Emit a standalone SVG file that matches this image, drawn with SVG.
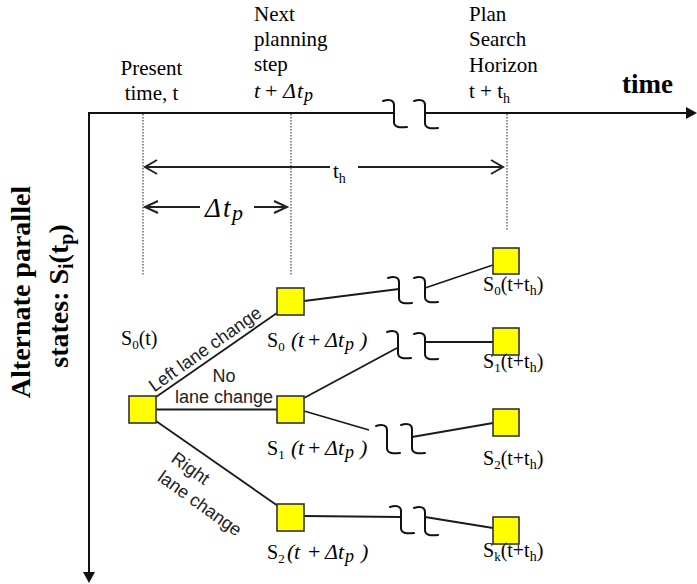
<svg xmlns="http://www.w3.org/2000/svg" width="697" height="584" viewBox="0 0 697 584">
<style>
.serif{font-family:"Liberation Serif","Times New Roman",serif;fill:#000}
.sans{font-family:"Liberation Sans",Arial,sans-serif;fill:#222;font-size:18px}
.node{fill:#ffff00;stroke:#333;stroke-width:1.6}
.conn{stroke:#1a1a1a;stroke-width:1.8;fill:none}
.brk{stroke:#111;stroke-width:2;fill:none;stroke-linecap:round}
.dot{stroke:#555;stroke-width:1.3;stroke-dasharray:1.5 1.5}
.dim{stroke:#222;stroke-width:2;fill:none}
.it{font-style:italic}
</style>
<rect width="697" height="584" fill="#fff"/>

<g id="axes">
  <path d="M89,574 V113 H394 M425,113 H688" stroke="#111" stroke-width="2" fill="none"/>
  <polygon points="686,107 697,113 686,119" fill="#111"/>
  <polygon points="83,572 89,583 95,572" fill="#111"/>
  <path class="brk" d="M383,101 C389,99 394,100 394,105 L394,122 C394,127 399,128 407,127"/>
  <path class="brk" d="M414,101 C420,99 425,100 425,105 L425,123 C425,128 430,129 438,128"/>
  <text class="serif" x="622" y="93" font-size="27" font-weight="bold">time</text>
  <text class="serif" transform="translate(30,292) rotate(-90)" text-anchor="middle" font-size="28" font-weight="bold">Alternate parallel</text>
  <text class="serif" transform="translate(68,296) rotate(-90)" text-anchor="middle" font-size="28" font-weight="bold">states: S<tspan font-size="20" dy="5">i</tspan><tspan dy="-5">(t</tspan><tspan font-size="20" dy="5">p</tspan><tspan dy="-5">)</tspan></text>
</g>

<g id="time-marks">
  <line class="dot" x1="143" y1="114" x2="143" y2="276"/>
  <line class="dot" x1="291" y1="114" x2="291" y2="276"/>
  <line class="dot" x1="507" y1="114" x2="507" y2="230"/>
  <text class="serif" font-size="21" text-anchor="middle" x="151.5" y="75">Present</text>
  <text class="serif" font-size="21" text-anchor="middle" x="151.5" y="100">time, t</text>
  <text class="serif" font-size="21" x="254" y="21">Next</text>
  <text class="serif" font-size="21" x="254" y="46">planning</text>
  <text class="serif" font-size="21" x="254" y="71">step</text>
  <text class="serif" font-size="22" y="98"><tspan class="it" x="254">t</tspan><tspan x="265">+</tspan><tspan class="it" x="283">Δ</tspan><tspan class="it" x="297">t</tspan><tspan class="it" x="304" dy="3" font-size="18">p</tspan></text>
  <text class="serif" font-size="21" x="469" y="21">Plan</text>
  <text class="serif" font-size="21" x="469" y="46">Search</text>
  <text class="serif" font-size="21" x="469" y="72">Horizon</text>
  <text class="serif" font-size="21" x="469" y="98">t + t<tspan font-size="14" dy="5">h</tspan></text>
</g>

<g id="dimensions">
  <path class="dim" d="M145,167 H330 M358,167 H503 M157,160 L145,167 L157,174 M491,160 L503,167 L491,174"/>
  <text class="serif" font-size="21" x="333" y="178">t<tspan font-size="14" dy="5">h</tspan></text>
  <path class="dim" d="M145,207 H200 M254,207 H287 M158,201 L145,207 L158,213 M274,201 L287,207 L274,213"/>
  <text class="serif it" font-size="27" y="217"><tspan x="205">Δ</tspan><tspan x="223">t</tspan><tspan x="232" dy="3" font-size="22">p</tspan></text>
</g>

<g id="connectors">
  <line class="conn" x1="156" y1="397" x2="277" y2="313"/>
  <line class="conn" x1="156" y1="409.5" x2="277" y2="409.5"/>
  <line class="conn" x1="156" y1="421" x2="278" y2="506"/>
  <line class="conn" x1="304" y1="301" x2="399" y2="289"/>
  <line class="conn" x1="425" y1="288" x2="493" y2="265"/>
  <line class="conn" x1="304" y1="398" x2="397" y2="348"/>
  <line class="conn" x1="425" y1="342" x2="493" y2="342"/>
  <line class="conn" x1="304" y1="411" x2="369" y2="430"/>
  <line class="conn" x1="412" y1="437" x2="493" y2="423"/>
  <line class="conn" x1="304" y1="516" x2="401" y2="517"/>
  <line class="conn" x1="425" y1="517" x2="493" y2="528"/>
  <path class="brk" d="M388,278 C394,276 399,277 399,282 L399,298 C399,303 404,304 412,303"/>
  <path class="brk" d="M414,278 C420,276 425,277 425,282 L425,297 C425,302 430,303 438,302"/>
  <path class="brk" d="M387,332 C393,330 398,331 398,336 L398,353 C398,358 403,359 411,358"/>
  <path class="brk" d="M414,334 C420,332 425,333 425,338 L425,354 C425,359 430,360 438,359"/>
  <path class="brk" d="M376,426 C382,424 387,425 387,430 L387,448 C387,453 392,454 400,453"/>
  <path class="brk" d="M401,425 C407,423 412,424 412,429 L412,448 C412,453 417,454 425,453"/>
  <path class="brk" d="M390,507 C396,505 401,506 401,511 L401,528 C401,533 406,534 414,533"/>
  <path class="brk" d="M414,508 C420,506 425,507 425,512 L425,530 C425,535 430,536 438,535"/>
  <text class="sans" text-anchor="middle" transform="translate(208.5,354) rotate(-35.3)">Left lane change</text>
  <text class="sans" text-anchor="middle" x="224" y="382" fill="#333">No</text>
  <text class="sans" text-anchor="middle" x="224" y="403" fill="#333">lane change</text>
  <text class="sans" transform="translate(170,461) rotate(35.7)"><tspan x="0" y="0">Right</tspan><tspan x="0" y="23">lane change</tspan></text>
</g>

<g id="root">
  <rect class="node" x="129" y="396" width="27" height="27"/>
  <text class="serif" font-size="20" x="121" y="345">S<tspan font-size="13" dy="4">0</tspan><tspan dy="-4">(t)</tspan></text>
</g>
<g id="n0">
  <rect class="node" x="277" y="288" width="27" height="27"/>
  <text class="serif" y="347" font-size="22"><tspan x="267" font-size="20">S</tspan><tspan dy="4" font-size="13">0</tspan><tspan class="it" x="291" dy="-4">(</tspan><tspan class="it" x="298">t</tspan><tspan x="308">+</tspan><tspan class="it" x="325">Δ</tspan><tspan class="it" x="338">t</tspan><tspan class="it" x="345" dy="3" font-size="18">p</tspan><tspan class="it" x="360" dy="-3">)</tspan></text>
</g>
<g id="n1">
  <rect class="node" x="277" y="396" width="27" height="27"/>
  <text class="serif" y="455" font-size="22"><tspan x="267" font-size="20">S</tspan><tspan dy="4" font-size="13">1</tspan><tspan class="it" x="291" dy="-4">(</tspan><tspan class="it" x="298">t</tspan><tspan x="308">+</tspan><tspan class="it" x="325">Δ</tspan><tspan class="it" x="338">t</tspan><tspan class="it" x="345" dy="3" font-size="18">p</tspan><tspan class="it" x="360" dy="-3">)</tspan></text>
</g>
<g id="n2">
  <rect class="node" x="277" y="504" width="27" height="27"/>
  <text class="serif" y="559" font-size="22"><tspan x="267" font-size="20">S</tspan><tspan dy="4" font-size="13">2</tspan><tspan class="it" x="287" dy="-4">(</tspan><tspan class="it" x="294">t</tspan><tspan x="308">+</tspan><tspan class="it" x="325">Δ</tspan><tspan class="it" x="338">t</tspan><tspan class="it" x="345" dy="3" font-size="18">p</tspan><tspan class="it" x="361" dy="-3">)</tspan></text>
</g>
<g id="h0">
  <rect class="node" x="493" y="248" width="26" height="26"/>
  <text class="serif" font-size="20" x="483" y="291">S<tspan font-size="13" dy="4">0</tspan><tspan dy="-4">(t+t</tspan><tspan font-size="14" dy="4">h</tspan><tspan dy="-4">)</tspan></text>
</g>
<g id="h1">
  <rect class="node" x="493" y="328" width="26" height="27"/>
  <text class="serif" font-size="20" x="483" y="368">S<tspan font-size="13" dy="4">1</tspan><tspan dy="-4">(t+t</tspan><tspan font-size="14" dy="4">h</tspan><tspan dy="-4">)</tspan></text>
</g>
<g id="h2">
  <rect class="node" x="493" y="409" width="26" height="27"/>
  <text class="serif" font-size="20" x="483" y="465">S<tspan font-size="13" dy="4">2</tspan><tspan dy="-4">(t+t</tspan><tspan font-size="14" dy="4">h</tspan><tspan dy="-4">)</tspan></text>
</g>
<g id="hk">
  <rect class="node" x="493" y="517" width="26" height="27"/>
  <text class="serif" font-size="20" x="483" y="557">S<tspan font-size="13" dy="4">k</tspan><tspan dy="-4">(t+t</tspan><tspan font-size="14" dy="4">h</tspan><tspan dy="-4">)</tspan></text>
</g>
</svg>
